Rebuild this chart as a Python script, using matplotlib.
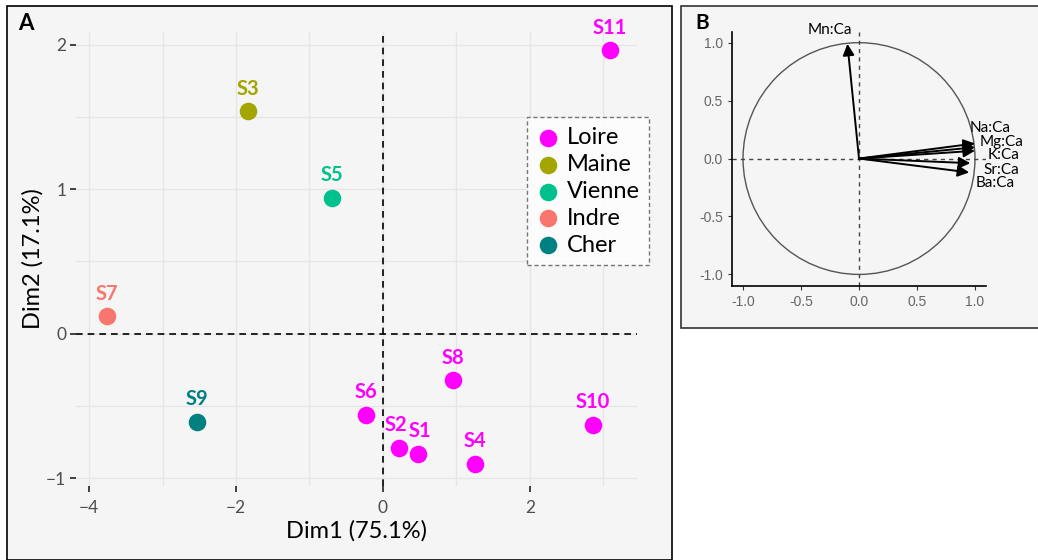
import numpy as np
import matplotlib
matplotlib.use("Agg")
import matplotlib.pyplot as plt
from matplotlib.patches import Rectangle, Circle

plt.rcParams['font.family'] = ['Lato', 'DejaVu Sans']

# PCA scores of the sampling sites
sites = ['S1', 'S2', 'S3', 'S4', 'S5', 'S6', 'S7', 'S8', 'S9', 'S10', 'S11']
dim1 = [0.48, 0.22, -1.84, 1.25, -0.69, -0.23, -3.76, 0.95, -2.53, 2.86, 3.09]
dim2 = [-0.83, -0.79, 1.54, -0.90, 0.94, -0.56, 0.12, -0.32, -0.61, -0.63, 1.96]
river = ['Loire', 'Loire', 'Maine', 'Loire', 'Vienne', 'Loire', 'Indre', 'Loire',
         'Cher', 'Loire', 'Loire']

rivers = ['Loire', 'Maine', 'Vienne', 'Indre', 'Cher']
river_colors = ['#FF00FF', '#A3A500', '#00C08B', '#F8766D', '#008080']

# variable loadings (correlation circle)
elements = ['Mn:Ca', 'Na:Ca', 'Mg:Ca', 'K:Ca', 'Sr:Ca', 'Ba:Ca']
load1 = [-0.10, 1.00, 1.00, 1.00, 0.96, 0.95]
load2 = [0.99, 0.13, 0.097, 0.067, -0.04, -0.12]
label_pos = [(-0.25, 1.11), (1.13, 0.26), (1.23, 0.14), (1.25, 0.03),
             (1.23, -0.095), (1.17, -0.21)]

W, H = 1038, 560
fig = plt.figure(figsize=(W / 100, H / 100), dpi=100)
fig.patch.set_facecolor('white')

bg = '#F5F5F5'
# panel frames
fig.add_artist(Rectangle((7 / W, 0), 665 / W, 1 - 6 / H, transform=fig.transFigure,
                         facecolor=bg, edgecolor='black', lw=1.2, zorder=0))
fig.add_artist(Rectangle((681 / W, 1 - 328 / H), 360 / W, 322 / H, transform=fig.transFigure,
                         facecolor=bg, edgecolor='#333333', lw=1.2, zorder=0))

# ---- panel A: individuals ----
axA = fig.add_axes([76 / W, 1 - 486 / H, 561 / W, 454 / H])
axA.set_facecolor(bg)
axA.set_xlim(-4.177, 3.456)
axA.set_ylim(-1.053, 2.087)
axA.set_xticks([-4, -2, 0, 2])
axA.set_yticks([-1, 0, 1, 2])
axA.set_xticks([-3, -1, 1, 3], minor=True)
axA.set_yticks([-0.5, 0.5, 1.5], minor=True)
axA.grid(True, which='both', color='#E6E6E6', lw=1.0)
axA.set_axisbelow(True)
for s in axA.spines.values():
    s.set_visible(False)
axA.tick_params(which='major', length=4, width=1.2, color='#222222',
                labelcolor='#4D4D4D', labelsize=12.5, pad=3)
axA.tick_params(axis='x', which='major', pad=6)
axA.tick_params(which='minor', length=0)
axA.axhline(0, color='black', ls=(0, (4, 3)), lw=1.2)
axA.axvline(0, color='black', ls=(0, (4, 3)), lw=1.2)

# small horizontal nudges for the crowded S1/S2 labels
nudge = {'S2': -2.5, 'S1': 1.5}
for name, c in zip(rivers, river_colors):
    idx = [i for i, r in enumerate(river) if r == name]
    axA.scatter([dim1[i] for i in idx], [dim2[i] for i in idx], s=160, color=c,
                label=name, zorder=3, linewidths=0)
    for i in idx:
        dx = nudge.get(sites[i], 0)
        axA.annotate(sites[i], (dim1[i], dim2[i]), xytext=(dx, 9), textcoords='offset points',
                     ha='center', va='bottom', color=c, fontsize=14.5, fontweight='bold', zorder=4)

axA.set_xlabel('Dim1 (75.1%)', fontsize=17, labelpad=3)
axA.set_ylabel('Dim2 (17.1%)', fontsize=17, labelpad=2)
leg = axA.legend(loc='upper left', bbox_to_anchor=(451 / 561, 1 - 85 / 454), fontsize=17,
                 frameon=True, fancybox=False, handletextpad=0.35, labelspacing=0.25,
                 borderpad=0.42, handlelength=0.9, markerscale=1.0, borderaxespad=0)
leg.get_frame().set_edgecolor('#555555')
leg.get_frame().set_linestyle((0, (3, 2)))
leg.get_frame().set_linewidth(1.0)
fig.text(18 / W, 1 - 30 / H, 'A', fontsize=16, fontweight='bold')

# ---- panel B: correlation circle ----
axB = fig.add_axes([732 / W, 1 - 286 / H, 254 / W, 254 / H])
axB.set_facecolor(bg)
axB.set_xlim(-1.095, 1.095)
axB.set_ylim(-1.10, 1.092)
for side in ['top', 'right']:
    axB.spines[side].set_visible(False)
for side in ['left', 'bottom']:
    axB.spines[side].set_linewidth(1.2)
ticks = [-1.0, -0.5, 0.0, 0.5, 1.0]
axB.set_xticks(ticks)
axB.set_yticks(ticks)
axB.set_xticklabels([f'{t:.1f}' for t in ticks], family='Liberation Sans')
axB.set_yticklabels([f'{t:.1f}' for t in ticks], family='Liberation Sans')
axB.tick_params(length=3, color='#333333', labelcolor='#666666', labelsize=10)
axB.add_patch(Circle((0, 0), 1.0, fill=False, edgecolor='#555555', lw=1.0))
axB.axhline(0, color='#444444', ls=(0, (3, 3)), lw=1.0)
axB.axvline(0, color='#444444', ls=(0, (3, 3)), lw=1.0)
for el, x, y, (tx, ty) in zip(elements, load1, load2, label_pos):
    axB.annotate('', xy=(x, y), xytext=(0, 0),
                 arrowprops=dict(arrowstyle='-|>', color='black', lw=1.4,
                                 mutation_scale=17, shrinkA=0, shrinkB=0))
    axB.text(tx, ty, el, ha='center', va='center', fontsize=11, clip_on=False)
fig.text(695 / W, 1 - 29 / H, 'B', fontsize=15, fontweight='bold')

fig.savefig('out.png', dpi=100)
